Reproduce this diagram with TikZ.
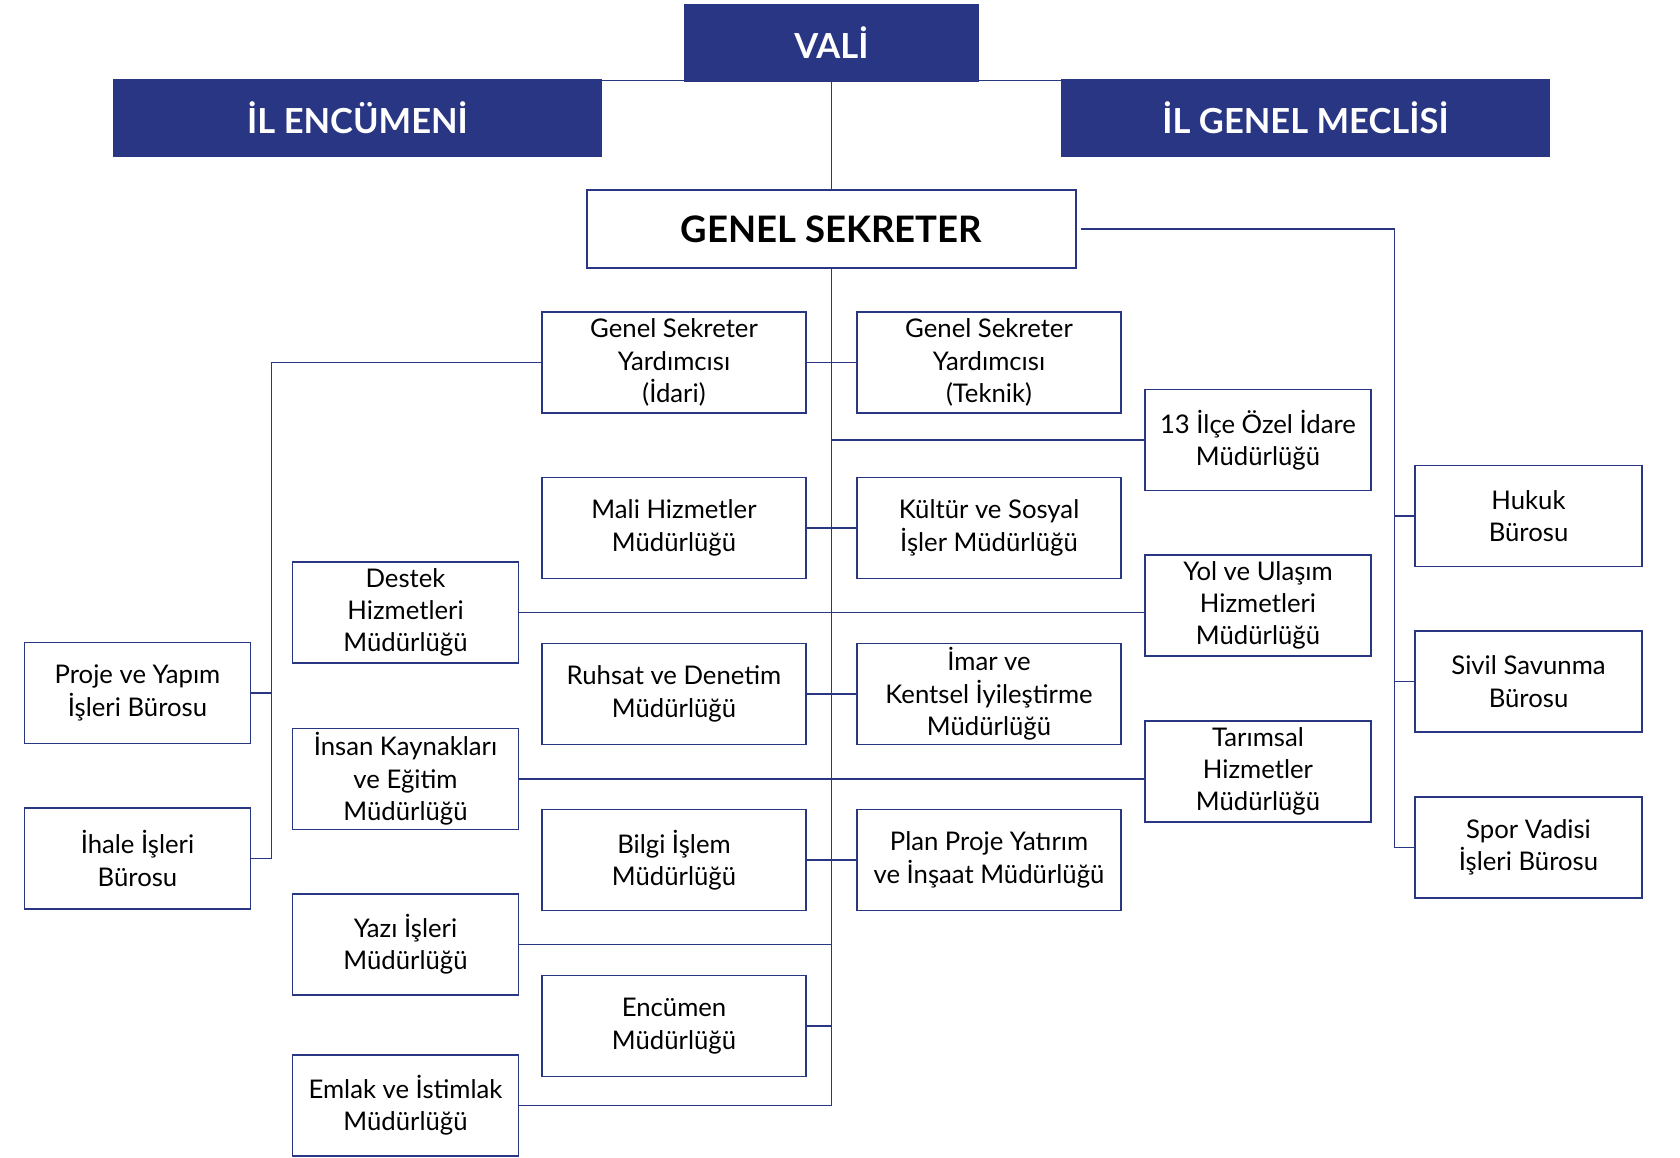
\documentclass[tikz,border=0pt]{standalone}
\usepackage{fontspec}
\setmainfont{Lato}
\definecolor{navy}{RGB}{41,54,132}
\begin{document}
\begin{tikzpicture}[x=1pt,y=-1pt,
  hdr/.style={fill=navy, draw=none, text=white, font=\fontsize{34.5}{40}\selectfont\bfseries, minimum height=78pt, inner sep=0pt},
  ub/.style={draw=navy, line width=1.8pt, fill=white, align=center, inner sep=0pt, font=\fontsize{25.7}{32.3}\selectfont, text=black, minimum height=101pt},
  wm/.style={ub, minimum width=264pt},
  ws/.style={ub, minimum width=226pt},
  ln/.style={draw=navy, line width=1.6pt}]
\useasboundingbox (0,0) rectangle (1680,1157);
% top
\node[hdr, minimum width=295pt] (vali) at (831.5,43) {VALİ};
\node[hdr, minimum width=489pt] (enc) at (357.5,118) {İL ENCÜMENİ};
\node[hdr, minimum width=489pt] (mec) at (1305.5,118) {İL GENEL MECLİSİ};
\node[ub, minimum width=489pt, minimum height=78pt, font=\fontsize{36.5}{40}\selectfont\bfseries] (gs) at (831.5,229) {GENEL SEKRETER};
% middle columns
\node[wm] (idari) at (674,362.5) {Genel Sekreter\\Yardımcısı\\(İdari)};
\node[wm] (teknik) at (989,362.5) {Genel Sekreter\\Yardımcısı\\(Teknik)};
\node[wm] (mali) at (674,528) {Mali Hizmetler\\Müdürlüğü};
\node[wm] (kultur) at (989,528) {Kültür ve Sosyal\\İşler Müdürlüğü};
\node[wm] (ruhsat) at (674,694) {Ruhsat ve Denetim\\Müdürlüğü};
\node[wm] (imar) at (989,694) {İmar ve\\Kentsel İyileştirme\\Müdürlüğü};
\node[wm] (bilgi) at (674,860) {Bilgi İşlem\\Müdürlüğü};
\node[wm] (plan) at (989,860) {Plan Proje Yatırım\\ve İnşaat Müdürlüğü};
\node[wm] (encumen) at (674,1026) {Encümen\\Müdürlüğü};
% inner left
\node[ws] (destek) at (405.5,612.5) {Destek\\Hizmetleri\\Müdürlüğü};
\node[ws] (insan) at (405.5,779) {İnsan Kaynakları\\ve Eğitim\\Müdürlüğü};
\node[ws] (yazi) at (405.5,944.5) {Yazı İşleri\\Müdürlüğü};
\node[ws] (emlak) at (405.5,1105.5) {Emlak ve İstimlak\\Müdürlüğü};
% inner right
\node[ws] (ilce) at (1258,440) {13 İlçe Özel İdare\\Müdürlüğü};
\node[ws] (yol) at (1258,605.5) {Yol ve Ulaşım\\Hizmetleri\\Müdürlüğü};
\node[ws] (tarim) at (1258,771.5) {Tarımsal\\Hizmetler\\Müdürlüğü};
% far left
\node[ws] (proje) at (137.5,693) {Proje ve Yapım\\İşleri Bürosu};
\node[ws] (ihale) at (137.5,858.5) {İhale İşleri\\Bürosu};
% far right
\node[ws, minimum width=227pt] (hukuk) at (1528.5,516) {Hukuk\\Bürosu};
\node[ws, minimum width=227pt] (sivil) at (1528.5,681.5) {Sivil Savunma\\Bürosu};
\node[ws, minimum width=227pt] (spor) at (1528.5,847.5) {Spor Vadisi\\İşleri Bürosu};
% helper coordinates
\coordinate (top) at (0,80.5);
\coordinate (lb) at (271.5,0);
\coordinate (rb) at (1394.5,0);
% connectors
\draw[ln] (enc.east |- top) -- (vali.west |- top);
\draw[ln] (vali.east |- top) -- (mec.west |- top);
\draw[ln] (vali.south) -- (gs.north);
\draw[ln] (gs.south) -- (gs.south |- emlak.east) -- (emlak.east);
\draw[ln] (idari.east) -- (teknik.west);
\draw[ln] (mali.east) -- (kultur.west);
\draw[ln] (ruhsat.east) -- (imar.west);
\draw[ln] (bilgi.east) -- (plan.west);
\draw[ln] (gs.south |- ilce.west) -- (ilce.west);
\draw[ln] (destek.east) -- (destek.east -| yol.west);
\draw[ln] (insan.east) -- (insan.east -| tarim.west);
\draw[ln] (yazi.east) -- (yazi.east -| gs.south);
\draw[ln] (encumen.east) -- (encumen.east -| gs.south);
\draw[ln] (idari.west) -| (lb |- ihale.east) -- (ihale.east);
\draw[ln] (proje.east) -- (proje.east -| lb);
\draw[ln] ([xshift=4pt]gs.east) -| (rb |- spor.west) -- (spor.west);
\draw[ln] (hukuk.west) -- (hukuk.west -| rb);
\draw[ln] (sivil.west) -- (sivil.west -| rb);
\end{tikzpicture}
\end{document}
